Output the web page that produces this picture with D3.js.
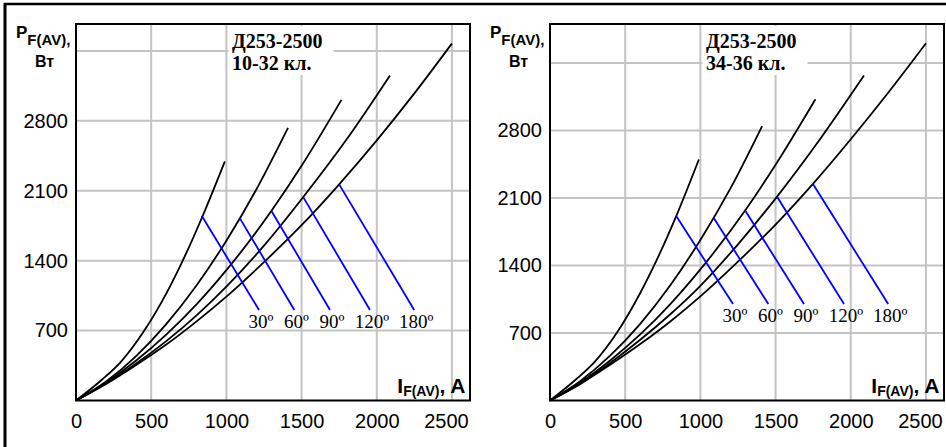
<!DOCTYPE html>
<html>
<head>
<meta charset="utf-8">
<script src="https://cdn.jsdelivr.net/npm/d3@7"></script>
<style>
  html, body { margin: 0; padding: 0; background: #fff; }
  svg { display: block; }
</style>
</head>
<body>
<svg id="chart" width="946" height="447"></svg>
<script>
// Power loss vs. average forward current, Д253-2500 diode, conduction angles 30…180°

const xTickValues = [0, 500, 1000, 1500, 2000, 2500];
const yTickValues = [700, 1400, 2100, 2800];
const yGridValues = [700, 1400, 2100, 2800, 3500];
const angleLabels = ["30º", "60º", "90º", "120º", "180º"];

const titleLeft = ["Д253-2500", "10-32 кл."];
const titleRight = ["Д253-2500", "34-36 кл."];

// Class 10-32: [I_F(AV), A ; P_F(AV), W]
const left30  = [[0,0],[170,205],[300,390],[450,690],[600,1070],[730,1465],[840,1840],[990,2395]];
const left60  = [[0,0],[200,190],[400,445],[600,765],[800,1150],[1000,1600],[1200,2115],[1410,2730]];
const left90  = [[0,0],[200,180],[400,400],[600,660],[800,960],[1000,1305],[1300,1900],[1500,2350],[1765,3010]];
const left120 = [[0,0],[200,170],[400,370],[600,595],[800,850],[1000,1140],[1250,1550],[1510,2035],[1800,2615],[2088,3255]];
const left180 = [[0,0],[200,165],[400,355],[600,560],[800,790],[1000,1040],[1250,1385],[1500,1755],[1750,2165],[2000,2605],[2250,3075],[2500,3575]];

// Class 34-36
const right30  = [[0,0],[170,215],[300,405],[450,715],[600,1115],[730,1525],[840,1915],[990,2500]];
const right60  = [[0,0],[200,200],[400,465],[600,795],[800,1195],[1000,1665],[1200,2200],[1410,2845]];
const right90  = [[0,0],[200,185],[400,415],[600,685],[800,1000],[1000,1360],[1300,1975],[1500,2445],[1765,3125]];
const right120 = [[0,0],[200,175],[400,390],[600,630],[800,895],[1000,1190],[1250,1620],[1510,2115],[1800,2720],[2088,3370]];
const right180 = [[0,0],[200,170],[400,370],[600,585],[800,820],[1000,1080],[1250,1440],[1500,1825],[1750,2250],[2000,2710],[2250,3195],[2500,3705]];

// Leader lines from each curve to its angle label
const leaderStartLeft  = [[836,1850],[1090,1824],[1301,1895],[1512,2034],[1750,2164]];
const leaderStartRight = [[838,1916],[1090,1890],[1301,1963],[1512,2108],[1750,2242]];
const leaderEndI = [1217, 1452, 1689, 1955, 2249];
const leaderEndPLeft = 906;
const leaderEndPRight = 1000;

const svg = d3.select("#chart");
const SANS = "'Liberation Sans', Arial, sans-serif";
const SERIF = "'Liberation Serif', 'Times New Roman', serif";
const plain = d3.format("d");

// outer frame (left and top edges)
svg.append("line").attr("x1", 5).attr("y1", 3).attr("x2", 5).attr("y2", 447)
  .attr("stroke", "#000").attr("stroke-width", 3);
svg.append("line").attr("x1", 4).attr("y1", 4).attr("x2", 946).attr("y2", 4)
  .attr("stroke", "#000").attr("stroke-width", 2.5);

function drawPanel(opt) {
  const x = d3.scaleLinear().domain([0, 2620]).range([opt.left, opt.left + 394]);
  const y = d3.scaleLinear().domain([0, opt.yMax]).range([400.5, 24]);
  const g = svg.append("g");
  const [x0, x1] = x.range();
  const [yb, yt] = y.range();

  // grid
  g.append("g").selectAll("line").data(xTickValues.slice(1)).join("line")
    .attr("x1", d => x(d)).attr("x2", d => x(d)).attr("y1", yt).attr("y2", yb)
    .attr("stroke", "#c4c4c4").attr("stroke-width", 2);
  g.append("g").selectAll("line").data(yGridValues).join("line")
    .attr("x1", x0).attr("x2", x1).attr("y1", d => y(d)).attr("y2", d => y(d))
    .attr("stroke", "#c4c4c4").attr("stroke-width", 2);

  // title on a white patch
  const tx = x0 + 156;
  g.append("rect").attr("x", tx - 3.5).attr("y", yt + 2).attr("width", 105).attr("height", 49)
    .attr("fill", "#fff");
  g.append("g").selectAll("text").data(opt.title).join("text")
    .attr("x", tx).attr("y", (d, i) => 48 + i * 22)
    .attr("font-family", SERIF).attr("font-weight", "bold").attr("font-size", 20)
    .attr("fill", "#000").text(d => d);

  // axes tick labels
  const xAxis = d3.axisBottom(x).tickValues(xTickValues).tickFormat(plain).tickSize(0).tickPadding(0);
  const xa = g.append("g").attr("transform", `translate(0,${yb})`).call(xAxis);
  xa.select(".domain").remove();
  xa.selectAll("text").attr("font-family", SANS).attr("font-size", 20).attr("fill", "#000")
    .attr("dy", null).attr("y", 27.5)
    .attr("dx", d => d === 2500 ? -6 : 0);

  const yAxis = d3.axisLeft(y).tickValues(yTickValues).tickFormat(plain).tickSize(0).tickPadding(8);
  const ya = g.append("g").attr("transform", `translate(${x0},0)`).call(yAxis);
  ya.select(".domain").remove();
  ya.selectAll("text").attr("font-family", SANS).attr("font-size", 20).attr("fill", "#000");

  // curves
  const line = d3.line().x(d => x(d[0])).y(d => y(d[1])).curve(d3.curveMonotoneX);
  g.append("g").selectAll("path").data(opt.curves).join("path")
    .attr("d", line).attr("fill", "none").attr("stroke", "#000").attr("stroke-width", 1.8);

  // leaders and angle labels
  g.append("g").selectAll("line").data(opt.leaders).join("line")
    .attr("x1", d => x(d[0])).attr("y1", d => y(d[1]))
    .attr("x2", (d, i) => x(leaderEndI[i])).attr("y2", y(opt.leaderEndP))
    .attr("stroke", "#0000ff").attr("stroke-width", 1.8);
  g.append("g").selectAll("text").data(angleLabels).join("text")
    .attr("x", (d, i) => x(leaderEndI[i]) + 2).attr("y", y(opt.leaderEndP) + 18)
    .attr("text-anchor", "middle").attr("font-family", SERIF).attr("font-size", 19)
    .attr("fill", "#000").text(d => d);

  // plot frame
  g.append("rect").attr("x", x0).attr("y", yt).attr("width", x1 - x0).attr("height", yb - yt)
    .attr("fill", "none").attr("stroke", "#000").attr("stroke-width", 2);

  // y axis title
  const py = g.append("text").attr("x", x0 - 60).attr("y", 38)
    .attr("font-family", SANS).attr("font-weight", "bold").attr("fill", "#000");
  py.append("tspan").attr("font-size", 17).text("P");
  py.append("tspan").attr("font-size", 15).attr("dy", 7).text("F(AV)");
  py.append("tspan").attr("font-size", 15).text(",");
  g.append("text").attr("x", x0 - 41).attr("y", 67)
    .attr("font-family", SANS).attr("font-weight", "bold").attr("font-size", 16)
    .attr("fill", "#000").text("Вт");

  // x axis title
  const ix = g.append("text").attr("x", x1 - 4.5).attr("y", 393).attr("text-anchor", "end")
    .attr("font-family", SANS).attr("font-weight", "bold").attr("fill", "#000");
  ix.append("tspan").attr("font-size", 21).text("I");
  ix.append("tspan").attr("font-size", 14).attr("dy", 3).text("F(AV)");
  ix.append("tspan").attr("font-size", 21).attr("dy", -3).text(", A");
}

drawPanel({
  left: 76, yMax: 3770, title: titleLeft,
  curves: [left30, left60, left90, left120, left180],
  leaders: leaderStartLeft, leaderEndP: leaderEndPLeft
});
drawPanel({
  left: 550, yMax: 3905, title: titleRight,
  curves: [right30, right60, right90, right120, right180],
  leaders: leaderStartRight, leaderEndP: leaderEndPRight
});
</script>
</body>
</html>
